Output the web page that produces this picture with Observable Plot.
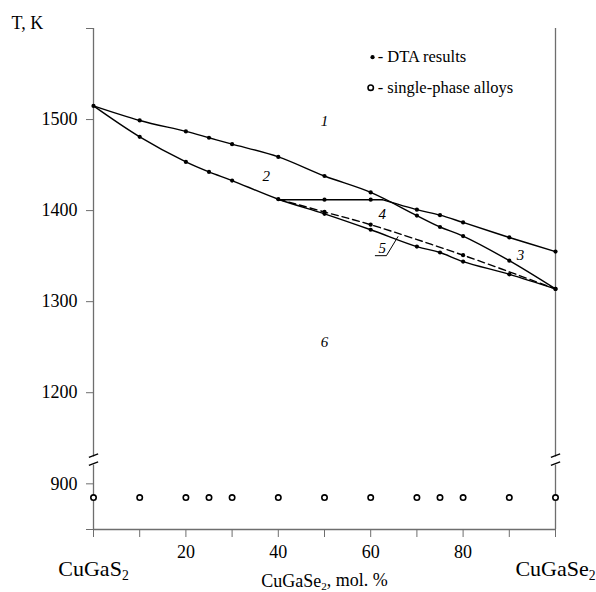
<!DOCTYPE html>
<html>
<head>
<meta charset="utf-8">
<script src="https://cdn.jsdelivr.net/npm/d3@7"></script>
<script src="https://cdn.jsdelivr.net/npm/@observablehq/plot@0.6"></script>
<style>
  body { margin: 0; background: #fff; }
</style>
</head>
<body>
<div id="chart"></div>
<script>
// CuGaS2–CuGaSe2 phase diagram: composition (mol. % CuGaSe2) vs temperature (K)
const compositions = [0, 10, 20, 25, 30, 40, 50, 60, 70, 75, 80, 90, 100];
const liquidusT    = [1515, 1499, 1487, 1480, 1473, 1459, 1438, 1420, 1394.5, 1382, 1372, 1345, 1314];
const solidusT     = [1515, 1481, 1453.5, 1442.5, 1433, 1412.5, 1396.5, 1379, 1360.5, 1354, 1344, 1330, 1314];

// horizontal (invariant) line and the upper branch on the CuGaSe2 side
const plateauX = [40, 50, 60, 62.5];
const plateauT = [1412, 1412, 1412, 1412];
const upperBranchX = [62.5, 70, 75, 80, 90, 100];
const upperBranchT = [1412, 1401, 1395, 1387, 1370.5, 1355];

// dashed boundary
const dashedX = [40, 50, 60, 80, 100];
const dashedT = [1412.5, 1398.5, 1384.5, 1351, 1314];

// DTA points lying on the plateau / upper branch / dashed line
const plateauDotX = [50, 60];
const upperBranchDotX = [70, 75, 80, 90, 100];
const dashedDotX = [50, 60, 80];

// single-phase alloys (annealed samples)
const singlePhaseX = [0, 10, 20, 25, 30, 40, 50, 60, 70, 75, 80, 90, 100];
const singlePhaseT = 885;

// ticks
const xTickValues = [0, 10, 20, 30, 40, 50, 60, 70, 80, 90, 100];
const xTickLabels = [20, 40, 60, 80];
const yTickValues = [850, 900, 1200, 1300, 1400, 1500, 1600];
const yTickLabels = [900, 1200, 1300, 1400, 1500];

// phase-field numbers
const regionNames = ["1", "2", "3", "4", "5", "6"];
const regionX = [50, 37.4, 92.4, 62.5, 62.5, 50];
const regionT = [1498, 1437.5, 1350.5, 1396.5, 1358.5, 1256];

const pts = (xs, ts) => xs.map((x, i) => ({x, T: ts[i]}));
const lookup = (xs, ts) => new Map(xs.map((x, i) => [x, ts[i]]));

const liquidus = pts(compositions, liquidusT);
const solidus = pts(compositions, solidusT);
const plateau = pts(plateauX, plateauT);
const upperBranch = pts(upperBranchX, upperBranchT);
const dashed = pts(dashedX, dashedT);

const plateauMap = lookup(plateauX, plateauT);
const upperMap = lookup(upperBranchX, upperBranchT);
const dashedMap = lookup(dashedX, dashedT);

const dtaPoints = [
  ...liquidus,
  ...solidus.slice(1),
  ...plateauDotX.map(x => ({x, T: plateauMap.get(x)})),
  ...upperBranchDotX.map(x => ({x, T: upperMap.get(x)})),
  ...dashedDotX.map(x => ({x, T: dashedMap.get(x)}))
];
const singlePhase = singlePhaseX.map(x => ({x, T: singlePhaseT}));
const regions = regionNames.map((name, i) => ({name, x: regionX[i], T: regionT[i]}));

const axisGray = "#6e6e6e";
const lw = 1.4;

// broken temperature axis: 925–1125 K collapsed onto the break
const breakLow = 920.5, breakHigh = 1129.5;
const slashes = [0, 100].flatMap(x0 => [
  {x0, a: 1129, b: 1132.8},
  {x0, a: 920.2, b: 924}
]);

const chart = Plot.plot({
  width: 596,
  height: 592,
  marginLeft: 93,
  marginRight: 41,
  marginTop: 28,
  marginBottom: 63,
  style: {
    fontFamily: "'Liberation Serif', 'Times New Roman', serif",
    background: "#fff",
    color: "#000"
  },
  x: {domain: [0, 100]},
  y: {type: "linear", domain: [850, 925, 1125, 1600], range: [529, 460.5, 460.5, 28]},
  marks: [
    // axis lines
    Plot.ruleY([850], {stroke: axisGray, strokeWidth: 1.3}),
    Plot.ruleX([0, 100], {y1: 850, y2: breakLow, stroke: axisGray, strokeWidth: 1.3}),
    Plot.ruleX([0, 100], {y1: breakHigh, y2: 1600, stroke: axisGray, strokeWidth: 1.3}),
    Plot.link(slashes, {x1: d => d.x0 - 1, x2: d => d.x0 + 1, y1: "a", y2: "b", stroke: "#000", strokeWidth: 1.3}),

    Plot.axisX({
      ticks: xTickValues,
      tickFormat: d => xTickLabels.includes(d) ? String(d) : "",
      tickSize: 8, tickPadding: 8, fontSize: 18,
      stroke: axisGray, label: null
    }),
    Plot.axisY({
      ticks: yTickValues,
      tickFormat: d => yTickLabels.includes(d) ? String(d) : "",
      tickSize: 7, tickPadding: 9, fontSize: 18,
      stroke: axisGray, label: null
    }),

    // phase boundaries
    Plot.line(liquidus, {x: "x", y: "T", curve: "catmull-rom", stroke: "#000", strokeWidth: lw}),
    Plot.line(solidus, {x: "x", y: "T", curve: "catmull-rom", stroke: "#000", strokeWidth: lw}),
    Plot.line(plateau, {x: "x", y: "T", stroke: "#000", strokeWidth: lw}),
    Plot.line(upperBranch, {x: "x", y: "T", curve: "catmull-rom", stroke: "#000", strokeWidth: lw}),
    Plot.line(dashed, {x: "x", y: "T", curve: "catmull-rom", stroke: "#000", strokeWidth: lw, strokeDasharray: "7,4"}),

    // DTA points and single-phase alloys
    Plot.dot(dtaPoints, {x: "x", y: "T", r: 2.1, fill: "#000", stroke: "none"}),
    Plot.dot(singlePhase, {x: "x", y: "T", r: 2.7, fill: "#fff", stroke: "#000", strokeWidth: 1.6}),

    // phase-field numbers
    Plot.text(regions, {x: "x", y: "T", text: "name", fontStyle: "italic", fontSize: 15}),
    // leader for field 5
    Plot.line([{x: 61.0, T: 1350.5}, {x: 63.4, T: 1350.5}, {x: 65.9, T: 1371.4}], {x: "x", y: "T", stroke: "#000", strokeWidth: 1}),

    // legend
    Plot.dot([{x: 60.4, T: 1568.5}], {x: "x", y: "T", r: 2.1, fill: "#000", stroke: "none"}),
    Plot.dot([{x: 60.0, T: 1535}], {x: "x", y: "T", r: 2.7, fill: "#fff", stroke: "#000", strokeWidth: 1.6}),
    Plot.text([{x: 61.5, T: 1568.5, t: "- DTA results"}, {x: 61.5, T: 1535, t: "- single-phase alloys"}],
      {x: "x", y: "T", text: "t", textAnchor: "start", fontSize: 16.5}),

    // axis titles
    Plot.text(["T, K"], {frameAnchor: "top-left", dx: -82, dy: 0.5, lineAnchor: "bottom", textAnchor: "start", fontSize: 18}),
    Plot.text([{x: 0, t: "CuGaS₂"}, {x: 100, t: "CuGaSe₂"}],
      {x: "x", text: "t", frameAnchor: "bottom", dy: 46, lineAnchor: "bottom", fontSize: 22}),
    Plot.text([{x: 50, t: "CuGaSe₂, mol. %"}],
      {x: "x", text: "t", frameAnchor: "bottom", dy: 57, lineAnchor: "bottom", fontSize: 18})
  ]
});

// typeset the formula subscripts with the serif face (smaller, lowered digit)
d3.select(chart).selectAll("text").each(function () {
  const node = d3.select(this);
  const s = node.text();
  if (!s.includes("₂")) return;
  const [before, after] = s.split("₂");
  node.text(null);
  node.append("tspan").text(before);
  node.append("tspan").attr("font-size", "0.62em").attr("dy", "0.32em").text("2");
  if (after) node.append("tspan").attr("dy", "-0.2em").text(after);
});

document.getElementById("chart").appendChild(chart);
</script>
</body>
</html>
